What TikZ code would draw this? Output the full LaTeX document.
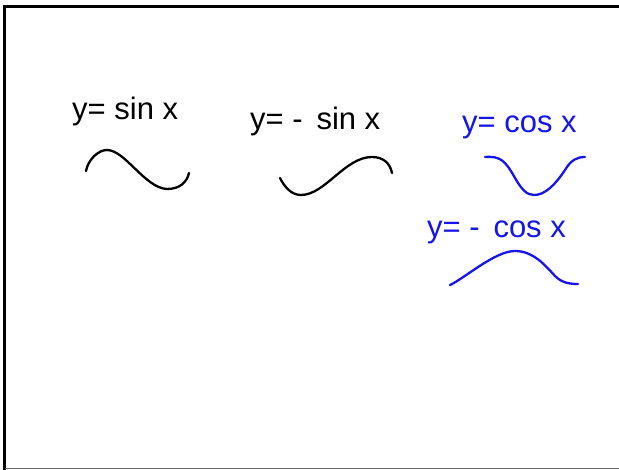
\documentclass[tikz,border=0pt]{standalone}
\usepackage{fontspec}
\setmainfont{Liberation Sans}
\definecolor{penblue}{RGB}{20,20,235}
\begin{document}
\begin{tikzpicture}[x=1pt, y=-1pt, curve/.style={line width=2.3pt, line cap=round}, lbl/.style={anchor=base west, inner sep=0pt, font=\fontsize{31}{33}\selectfont}]
  \useasboundingbox (0,0) rectangle (619,470);
  \draw [line width=3pt] (4.5,470) -- (4.5,6.5) -- (619,6.5);
  \draw [line width=1.5pt, black!60] (4.5,468.5) -- (619,468.5);

  \node [lbl] (sinl) at (72,120) {y= sin x};
  \node [lbl] (msinl) at (250,130) {y= - \,sin x};
  \node [lbl, text=penblue] (cosl) at (462,133) {y= cos x};
  \node [lbl, text=penblue] (mcosl) at (427,238) {y= - \,cos x};

  \draw [curve] (86,171) .. controls (88,160) and (98,150) .. (107,150) .. controls (125,150) and (145,188) .. (167,189) .. controls (180,189) and (187,182) .. (189,173);
  \draw [curve] (280,178) .. controls (285,188) and (292,195) .. (301,195) .. controls (325,195) and (345,157) .. (372,157) .. controls (383,157) and (390,163) .. (392,173);
  \draw [curve, penblue] (485,157) .. controls (500,156) and (505,160) .. (515,178) .. controls (522,190) and (527,195) .. (534,195) .. controls (545,195) and (555,185) .. (565,170) .. controls (571,160) and (577,157) .. (585,157);
  \draw [curve, penblue] (450,285) .. controls (465,278) and (495,251) .. (515,251) .. controls (533,251) and (545,265) .. (555,276) .. controls (562,283) and (570,284) .. (578,284);
\end{tikzpicture}
\end{document}
